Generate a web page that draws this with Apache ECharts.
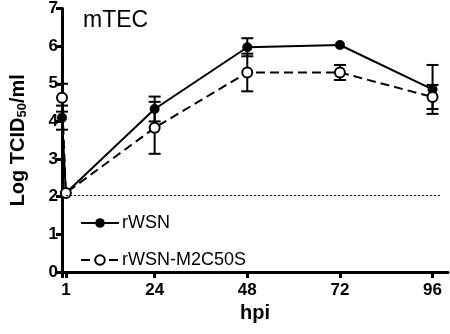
<!DOCTYPE html>
<html>
<head>
<meta charset="utf-8">
<script src="https://cdn.jsdelivr.net/npm/echarts@6/dist/echarts.min.js"></script>
<style>
  html, body { margin: 0; padding: 0; background: #fff; }
  #chart { width: 450px; height: 334px; }
</style>
</head>
<body>
<div id="chart"></div>
<script>
// hours post infection
var hours = [0, 1, 24, 48, 72, 96]
var xTicks = [0, 1, 24, 48, 72, 96]
var xLabels = [1, 24, 48, 72, 96]
// rWSN (filled)
var rwsnMean = [4.1, 2.1, 4.33, 5.97, 6.03, 4.85]
var rwsnErr = [0.32, 0, 0.33, 0.24, 0, 0.65]
// rWSN-M2C50S (open)
var mutMean = [4.63, 2.1, 3.83, 5.3, 5.3, 4.65]
var mutErr = [0.37, 0, 0.69, 0.5, 0.2, 0.32]
// detection limit
var lodValue = 2.05
var lodFrom = 1
var lodTo = 98

var font = 'Arial, "Liberation Sans", sans-serif'

function pts(mean) {
  return hours.map(function (h, i) { return [h, mean[i]] })
}
function bars(mean, err) {
  var out = []
  hours.forEach(function (h, i) {
    if (err[i] > 0) out.push([h, mean[i] - err[i], mean[i] + err[i]])
  })
  return out
}

function errorBar(params, api) {
  var x = api.value(0)
  var lo = api.coord([x, api.value(1)])
  var hi = api.coord([x, api.value(2)])
  var w = 6
  var st = { stroke: '#000', lineWidth: 2 }
  return {
    type: 'group',
    children: [
      { type: 'line', shape: { x1: lo[0], y1: lo[1], x2: hi[0], y2: hi[1] }, style: st },
      { type: 'line', shape: { x1: lo[0] - w, y1: lo[1], x2: lo[0] + w, y2: lo[1] }, style: st },
      { type: 'line', shape: { x1: hi[0] - w, y1: hi[1], x2: hi[0] + w, y2: hi[1] }, style: st }
    ]
  }
}

var myChart = echarts.init(document.getElementById('chart'))
var option = {
  animation: false,
  backgroundColor: '#fff',
  textStyle: { fontFamily: font, color: '#000' },
  title: {
    text: 'mTEC',
    left: 78,
    top: 4,
    textStyle: { fontSize: 23, fontWeight: 'normal', color: '#000', fontFamily: font }
  },
  legend: {
    orient: 'vertical',
    left: 75,
    top: 209,
    itemWidth: 38,
    itemHeight: 12,
    itemGap: 19,
    textStyle: { fontSize: 18, color: '#000', fontFamily: font, padding: [0, 0, 0, -2] },
    data: ['rWSN', 'rWSN-M2C50S']
  },
  grid: { left: 52, right: 2, top: 7, bottom: 62 },
  xAxis: {
    type: 'value',
    min: 0,
    max: 100,
    name: 'hpi',
    nameLocation: 'middle',
    nameGap: 30,
    nameTextStyle: { fontSize: 20, fontWeight: 'bold', color: '#000', fontFamily: font },
    splitLine: { show: false },
    axisLine: { lineStyle: { color: '#000', width: 3 } },
    axisTick: { length: 6, lineStyle: { color: '#000', width: 3 }, customValues: xTicks },
    axisLabel: { fontSize: 17, fontWeight: 'bold', color: '#000', margin: 10, fontFamily: font, customValues: xLabels }
  },
  yAxis: {
    type: 'value',
    min: 0,
    max: 7,
    interval: 1,
    name: '{a|Log TCID}{s|50}{a|/ml}',
    nameLocation: 'middle',
    nameRotate: 90,
    nameGap: 33,
    nameTextStyle: {
      rich: {
        a: { fontSize: 20, fontWeight: 'bold', color: '#000', fontFamily: font, lineHeight: 22 },
        s: { fontSize: 13, fontWeight: 'bold', color: '#000', fontFamily: font, lineHeight: 22, verticalAlign: 'bottom', padding: [8, 0, 0, 0] }
      }
    },
    splitLine: { show: false },
    axisLine: { show: true, lineStyle: { color: '#000', width: 3 } },
    axisTick: { length: 6, lineStyle: { color: '#000', width: 3 } },
    axisLabel: { fontSize: 17, fontWeight: 'bold', color: '#000', margin: 4, fontFamily: font }
  },
  series: [
    {
      name: 'rWSN',
      type: 'line',
      data: pts(rwsnMean),
      symbol: 'circle',
      symbolSize: 10,
      z: 4,
      itemStyle: { color: '#000' },
      lineStyle: { color: '#000', width: 2 },
      markLine: {
        silent: true,
        symbol: 'none',
        label: { show: false },
        lineStyle: { color: '#000', width: 1, type: [2, 2] },
        data: [[{ coord: [lodFrom, lodValue] }, { coord: [lodTo, lodValue] }]]
      }
    },
    {
      name: 'rWSN-M2C50S',
      type: 'line',
      data: pts(mutMean),
      symbol: 'circle',
      symbolSize: 10,
      z: 4,
      itemStyle: { color: '#fff', borderColor: '#000', borderWidth: 2 },
      lineStyle: { color: '#000', width: 2, type: [9, 5] }
    },
    {
      type: 'custom',
      renderItem: errorBar,
      data: bars(rwsnMean, rwsnErr),
      z: 3,
      silent: true
    },
    {
      type: 'custom',
      renderItem: errorBar,
      data: bars(mutMean, mutErr),
      z: 3,
      silent: true
    }
  ]
}
myChart.setOption(option)
window.addEventListener('resize', function () {
  myChart.resize()
})
</script>
</body>
</html>
